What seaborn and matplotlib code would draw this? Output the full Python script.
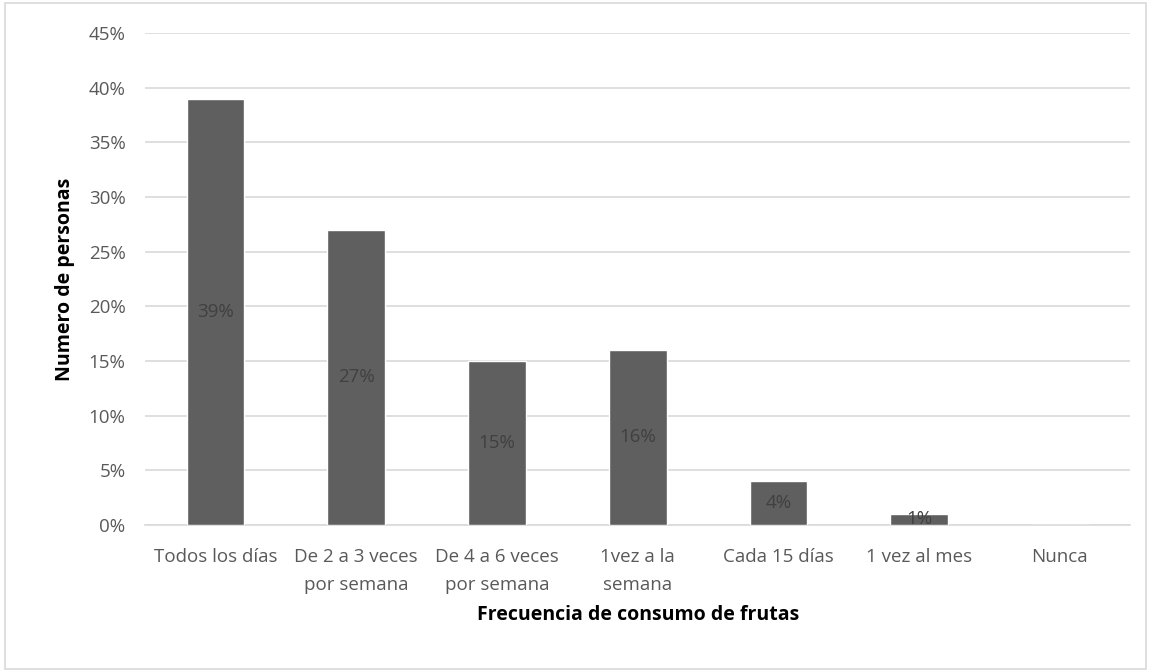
import pandas as pd
import numpy as np
import seaborn as sns
import matplotlib.pyplot as plt
from matplotlib.ticker import PercentFormatter

# Datos de la grafica
categorias = ['Todos los días', 'De 2 a 3 veces\npor semana', 'De 4 a 6 veces\npor semana',
              '1vez a la\nsemana', 'Cada 15 días', '1 vez al mes', 'Nunca']
porcentajes = [39, 27, 15, 16, 4, 1, 0]

df = pd.DataFrame({'frecuencia': categorias, 'porcentaje': porcentajes})

sns.set_theme(style='white')
plt.rcParams['font.family'] = ['Open Sans', 'DejaVu Sans']

fig = plt.figure(figsize=(11.51, 6.72), dpi=100)
ax = fig.add_axes([0.126, 0.219, 0.856, 0.732])

sns.barplot(data=df, x='frecuencia', y='porcentaje', color='#5f5f5f',
            saturation=1, width=0.41, ax=ax, zorder=3)

# etiquetas dentro de las barras
for i, v in enumerate(porcentajes):
    if v > 0:
        ax.text(i, v / 2, f'{v}%', ha='center', va='center',
                fontsize=13.5, color='#404040', zorder=4)

ax.set_ylim(0, 45)
ax.set_yticks(np.arange(0, 46, 5))
ax.yaxis.set_major_formatter(PercentFormatter(decimals=0))
ax.grid(axis='y', color='#d9d9d9', linewidth=1.2, zorder=0)
for s in ['top', 'right', 'left']:
    ax.spines[s].set_visible(False)
ax.spines['bottom'].set_color('#d9d9d9')
ax.spines['bottom'].set_linewidth(1.2)
ax.tick_params(axis='y', length=0, labelsize=13.5, colors='#595959', pad=14)
ax.tick_params(axis='x', length=0, labelsize=13.5, colors='#595959', pad=17)
for lbl in ax.get_xticklabels():
    lbl.set_linespacing(1.65)

ax.set_xlabel('Frecuencia de consumo de frutas', fontsize=14, fontweight='bold',
              color='black', labelpad=8)
ax.set_ylabel('Numero de personas', fontsize=14, fontweight='bold',
              color='black', labelpad=10)

# borde exterior
fig.patches.append(plt.Rectangle((0.004, 0.004), 0.992, 0.992, transform=fig.transFigure,
                                 fill=False, edgecolor='#d9d9d9', linewidth=1.2))

fig.savefig('out.png', dpi=100)
